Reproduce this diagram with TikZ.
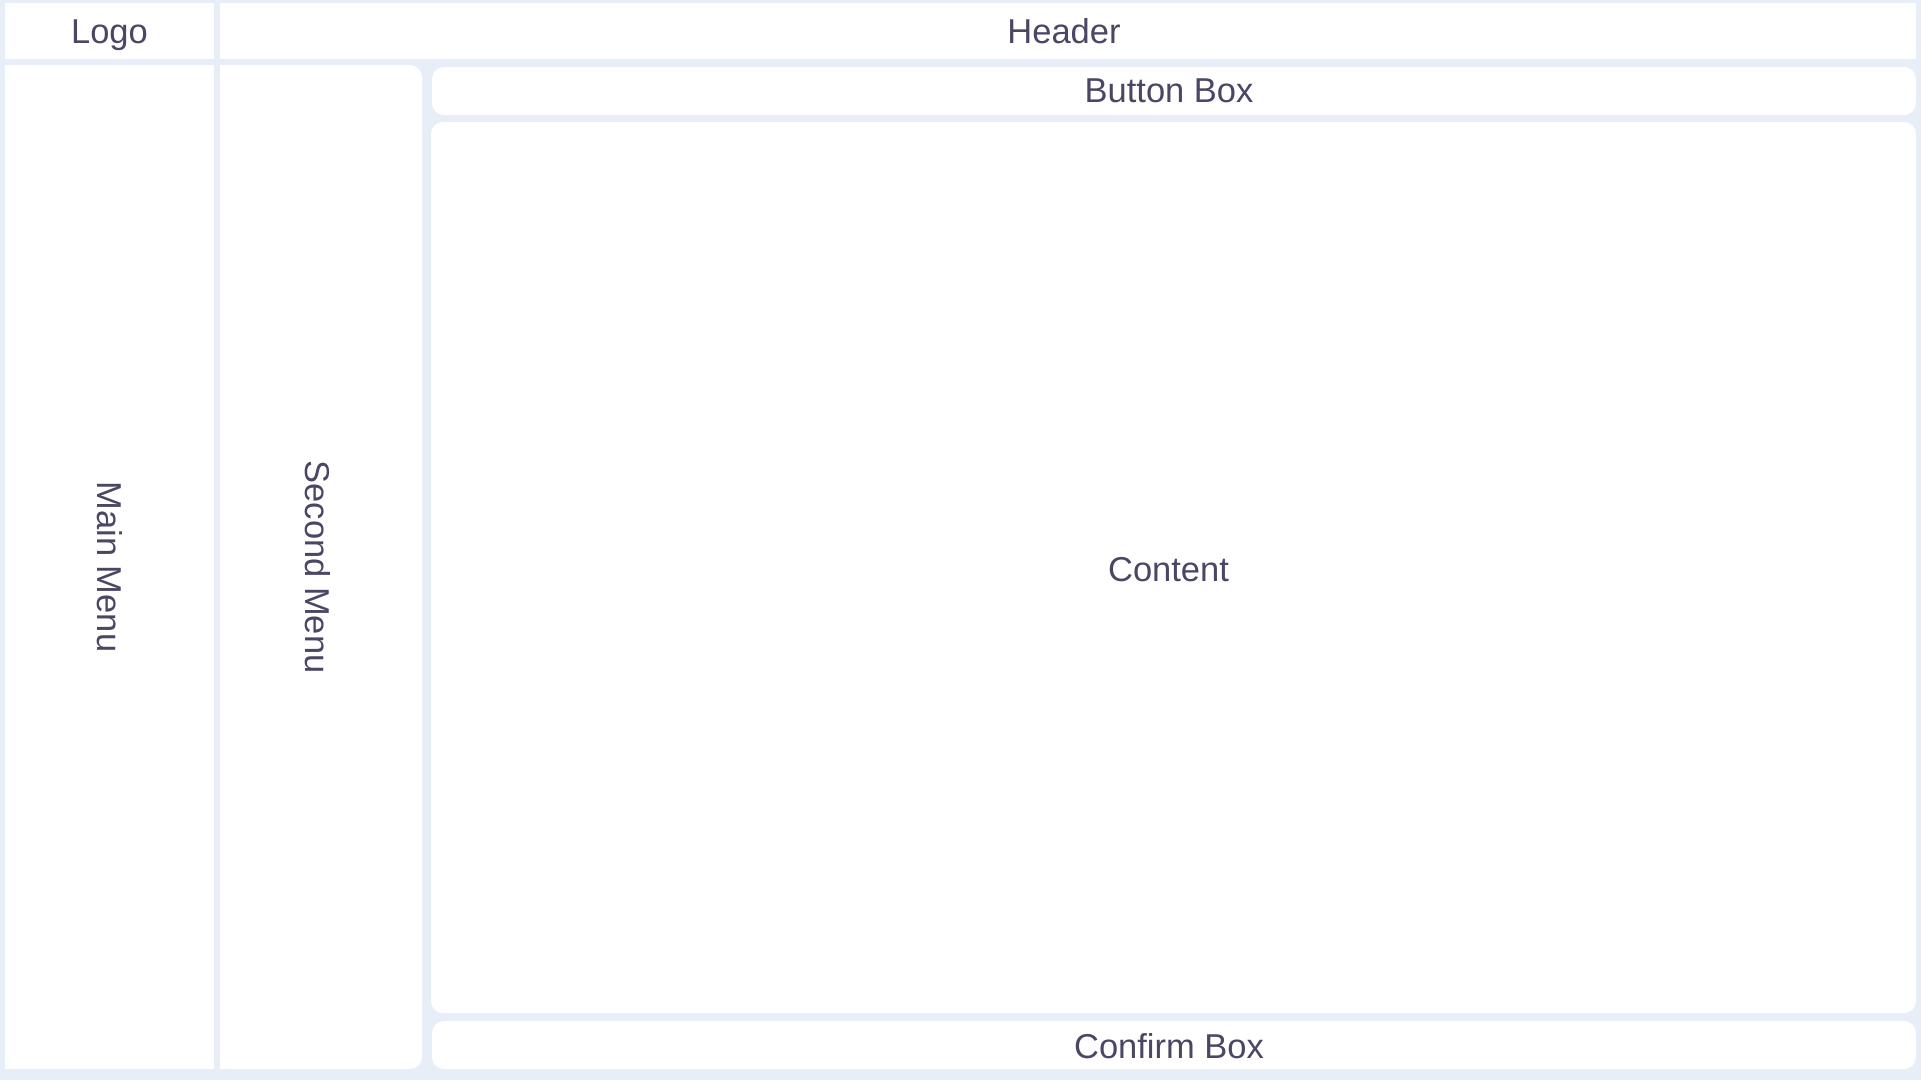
\documentclass[tikz,border=0pt]{standalone}
\usepackage{fontspec}
\setmainfont{Liberation Sans}
\definecolor{bgblue}{HTML}{E8EEF8}
\definecolor{txtcol}{HTML}{4A4764}
\begin{document}
\begin{tikzpicture}[x=1pt,y=-1pt,
  panel/.style={fill=white, draw=none, inner sep=0pt, outer sep=0pt},
  roundpanel/.style={panel, rounded corners=12pt},
  lbl/.style={inner sep=0pt, text=txtcol, text height=24.5pt, text depth=0pt,
    font=\fontsize{34.5}{40}\selectfont}]
\fill[bgblue] (0,0) rectangle (1921,1080);
\useasboundingbox (0,0) rectangle (1921,1080);
\node[panel, minimum width=209pt, minimum height=56pt] (logo) at (109.5,31) {};
\node[panel, minimum width=1696pt, minimum height=56pt] (header) at (1068,31) {};
\node[panel, minimum width=209pt, minimum height=1004pt] (mainmenu) at (109.5,567) {};
\fill[white] (220,65) rectangle (330,1069);
\node[roundpanel, minimum width=202pt, minimum height=1004pt] (secondmenu) at (321,567) {};
\node[roundpanel, minimum width=1484pt, minimum height=48pt] (buttonbox) at (1174,91) {};
\node[roundpanel, minimum width=1485pt, minimum height=891pt] (content) at (1173.5,567.5) {};
\node[roundpanel, minimum width=1484pt, minimum height=48pt] (confirmbox) at (1174,1045) {};
\node[lbl] (logolbl) at (logo.center) {Logo};
\node[lbl] (headerlbl) at ([xshift=-4pt]header.center) {Header};
\node[lbl, rotate=-90] (mainlbl) at (mainmenu.center) {Main Menu};
\node[lbl, rotate=-90] (secondlbl) at ([xshift=-3pt]secondmenu.center) {Second Menu};
\node[lbl] (buttonlbl) at ([xshift=-5pt, yshift=1pt]buttonbox.center) {Button Box};
\node[lbl] (contentlbl) at ([xshift=-5pt, yshift=-2pt]content.center) {Content};
\node[lbl] (confirmlbl) at ([xshift=-5pt, yshift=-1pt]confirmbox.center) {Confirm Box};
\end{tikzpicture}
\end{document}
